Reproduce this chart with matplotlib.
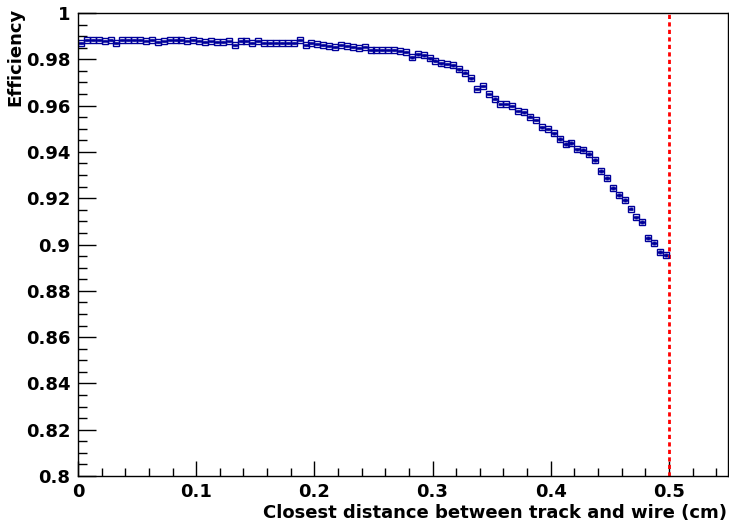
import numpy as np
import matplotlib
matplotlib.use("Agg")
import matplotlib.pyplot as plt
from matplotlib.ticker import MultipleLocator, FixedLocator

# ---- data ----
bin_low = 0.0
bin_width = 0.005
efficiency = [
    0.9872, 0.9883, 0.9882, 0.9883, 0.9881, 0.9883, 0.9872, 0.9883, 0.9882, 0.9884,
    0.9883, 0.9881, 0.9883, 0.9876, 0.9877, 0.9883, 0.9882, 0.9883, 0.9881, 0.9882,
    0.9881, 0.9876, 0.9877, 0.9875, 0.9876, 0.9877, 0.9862, 0.9880, 0.9879, 0.9869,
    0.9879, 0.9872, 0.9871, 0.9872, 0.9871, 0.9872, 0.9871, 0.9885, 0.9862, 0.9869,
    0.9866, 0.9862, 0.9857, 0.9852, 0.9862, 0.9859, 0.9852, 0.9847, 0.9855, 0.9840,
    0.9841, 0.9840, 0.9841, 0.9840, 0.9836, 0.9833, 0.9809, 0.9822, 0.9817, 0.9804,
    0.9794, 0.9783, 0.9780, 0.9774, 0.9757, 0.9742, 0.9718, 0.9672, 0.9685, 0.9650,
    0.9630, 0.9607, 0.9607, 0.9598, 0.9577, 0.9571, 0.9552, 0.9538, 0.9506, 0.9499,
    0.9480, 0.9455, 0.9433, 0.9437, 0.9411, 0.9408, 0.9390, 0.9365, 0.9318, 0.9286,
    0.9243, 0.9213, 0.9191, 0.9155, 0.9117, 0.9096, 0.9029, 0.9008, 0.8969, 0.8955,
]
eff_err = [0.0004] * 56 + [0.0006] * 25 + [0.0008] * 19
cut_position = 0.5
x_tick_values = [0, 0.1, 0.2, 0.3, 0.4, 0.5]
x_tick_labels = ['0', '0.1', '0.2', '0.3', '0.4', '0.5']
y_tick_values = [0.8, 0.82, 0.84, 0.86, 0.88, 0.9, 0.92, 0.94, 0.96, 0.98, 1.0]
y_tick_labels = ['0.8', '0.82', '0.84', '0.86', '0.88', '0.9', '0.92', '0.94',
                 '0.96', '0.98', '1']
x_label = "Closest distance between track and wire (cm)"
y_label = "Efficiency"

n = len(efficiency)
centers = bin_low + bin_width * (np.arange(n) + 0.5)

# ---- figure ----
plt.rcParams['font.family'] = ['DejaVu Sans']
fs = 13.0
fig = plt.figure(figsize=(7.29, 5.27), dpi=100)
ax = fig.add_axes([78/729, 1 - 476/527, (728 - 78)/729, (476 - 13)/527])

col = '#00009a'
ax.errorbar(centers, efficiency, xerr=bin_width/2, yerr=eff_err, fmt='s',
            color=col, ecolor=col, mfc='none', mec=col, ms=3.8, mew=1.0,
            elinewidth=1.8, capsize=0)

ax.plot([cut_position, cut_position], [0.8, 1.0], color='red', lw=2,
        linestyle=(0, (1.5, 1.2)))

ax.set_xlim(0, 0.55)
ax.set_ylim(0.8, 1.0)

ax.xaxis.set_major_locator(FixedLocator(x_tick_values))
ax.xaxis.set_minor_locator(MultipleLocator(0.02))
ax.yaxis.set_major_locator(FixedLocator(y_tick_values))
ax.yaxis.set_minor_locator(MultipleLocator(0.005))
ax.set_xticklabels(x_tick_labels)
ax.set_yticklabels(y_tick_labels)

ax.tick_params(axis='both', which='both', direction='in', top=False, right=False,
               labelsize=fs, width=1)
ax.tick_params(axis='y', which='major', length=13, pad=5.5)
ax.tick_params(axis='y', which='minor', length=6.5)
ax.tick_params(axis='x', which='major', length=11, pad=5)
ax.tick_params(axis='x', which='minor', length=5.8)
for lab in ax.get_xticklabels() + ax.get_yticklabels():
    lab.set_fontweight('bold')
for s in ax.spines.values():
    s.set_linewidth(1)

fig.text(727/729, 1 - 513/527, x_label, ha='right', va='center',
         fontsize=fs, fontweight='bold')
fig.text(15/729, 1 - 8/527, y_label, ha='center', va='top', rotation=90,
         fontsize=fs, fontweight='bold')

fig.savefig('out.png', dpi=100)
